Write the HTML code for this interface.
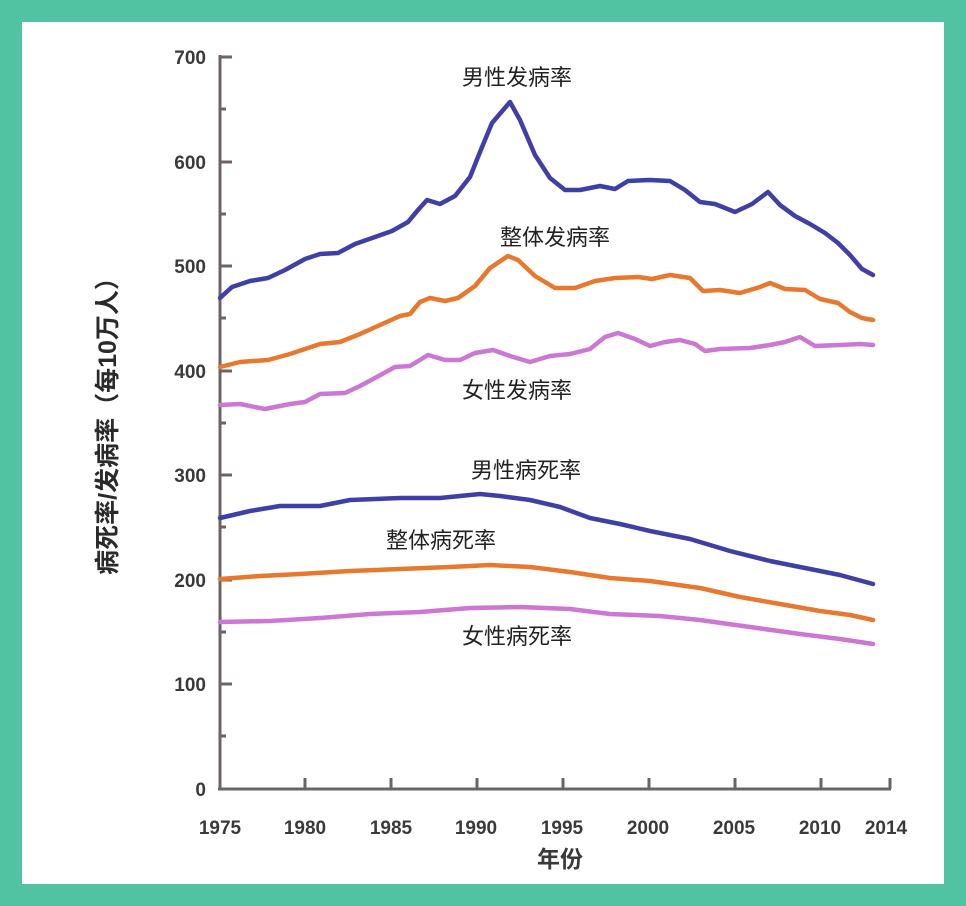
<!DOCTYPE html>
<html><head><meta charset="utf-8"><style>
html,body{margin:0;padding:0;background:#52c3a2;}
svg{display:block;}
</style></head><body>
<svg width="966" height="906" xmlns="http://www.w3.org/2000/svg" font-family="Liberation Sans, Noto Sans CJK SC, sans-serif">
<rect x="0" y="0" width="966" height="906" fill="#52c3a2"/>
<rect x="22" y="22" width="922" height="862" fill="#ffffff"/>
<g stroke="#6e6262" stroke-width="3" fill="none">
<line x1="220" y1="55" x2="220" y2="790"/>
<line x1="218" y1="789" x2="891" y2="789"/>
</g>
<g stroke="#6e6262" stroke-width="3">
<line x1="220" y1="57" x2="232" y2="57"/><line x1="220" y1="162" x2="232" y2="162"/>
<line x1="220" y1="266" x2="232" y2="266"/><line x1="220" y1="371" x2="232" y2="371"/>
<line x1="220" y1="475" x2="232" y2="475"/><line x1="220" y1="580" x2="232" y2="580"/>
<line x1="220" y1="684" x2="232" y2="684"/>
<line x1="220" y1="109" x2="226" y2="109"/><line x1="220" y1="214" x2="226" y2="214"/>
<line x1="220" y1="318" x2="226" y2="318"/><line x1="220" y1="423" x2="226" y2="423"/>
<line x1="220" y1="527" x2="226" y2="527"/><line x1="220" y1="632" x2="226" y2="632"/>
<line x1="220" y1="736" x2="226" y2="736"/>
<line x1="305" y1="789" x2="305" y2="778"/><line x1="391" y1="789" x2="391" y2="778"/>
<line x1="477" y1="789" x2="477" y2="778"/><line x1="563" y1="789" x2="563" y2="778"/>
<line x1="649" y1="789" x2="649" y2="778"/><line x1="735" y1="789" x2="735" y2="778"/>
<line x1="821" y1="789" x2="821" y2="778"/><line x1="890" y1="789" x2="890" y2="778"/>
</g>
<g font-size="19" fill="#3a3a3a" font-weight="bold" text-anchor="end">
<text x="206" y="64">700</text><text x="206" y="169">600</text><text x="206" y="273">500</text>
<text x="206" y="378">400</text><text x="206" y="482">300</text><text x="206" y="587">200</text>
<text x="206" y="691">100</text><text x="206" y="796">0</text>
</g>
<g font-size="19" fill="#3a3a3a" font-weight="bold" text-anchor="middle">
<text x="220" y="834">1975</text><text x="305" y="834">1980</text><text x="391" y="834">1985</text>
<text x="476" y="834">1990</text><text x="562" y="834">1995</text><text x="648" y="834">2000</text>
<text x="734" y="834">2005</text><text x="820" y="834">2010</text><text x="886" y="834">2014</text>
<text x="560" y="867" font-size="23">年份</text>
</g>
<text transform="translate(116,420) rotate(-90)" font-size="25" font-weight="bold" fill="#2a2a2a" text-anchor="middle">病死率/发病率（每10万人）</text>
<g fill="none" stroke-width="4.5" stroke-linejoin="round" stroke-linecap="round">
<polyline stroke="#3f3fa8" points="220,298 232,287 250,281 268,278 285,270 305,259 320,254 338,253 355,244 375,237 392,231 408,222 418,210 427,200 440,204 455,196 470,177 480,152 492,123 510,102 520,120 535,155 550,178 565,190 580,190 600,186 615,189 628,181 650,180 670,181 685,190 700,202 715,204 735,212 752,204 768,192 780,205 795,216 810,224 825,233 838,243 850,255 862,269 873,275"/>
<polyline stroke="#e8782e" points="220,367 240,362 268,360 290,354 320,344 340,342 360,334 380,325 400,316 410,314 420,302 430,298 445,301 458,298 475,286 490,268 508,256 518,260 535,276 555,288 575,288 595,281 615,278 638,277 652,279 670,275 690,278 703,291 720,290 740,293 760,287 770,283 785,289 805,290 820,299 838,303 850,312 862,318 873,320"/>
<polyline stroke="#cc77d4" points="220,405 240,404 265,409 290,404 305,402 320,394 345,393 360,386 375,378 395,367 410,366 428,355 445,360 460,360 475,353 493,350 510,356 530,362 550,356 570,354 590,349 605,337 618,333 635,339 650,346 665,342 680,340 695,344 705,351 720,349 750,348 770,345 785,342 800,337 815,346 840,345 860,344 873,345"/>
<polyline stroke="#3f3fa8" points="220,518 250,511 280,506 320,506 350,500 400,498 440,498 480,494 500,496 530,500 560,507 590,518 620,524 650,531 690,539 730,551 770,561 810,569 840,575 873,584"/>
<polyline stroke="#e8782e" points="220,579 260,576 300,574 350,571 400,569 450,567 490,565 530,567 570,572 610,578 650,581 700,588 740,597 780,604 820,611 850,615 873,620"/>
<polyline stroke="#cc77d4" points="220,622 270,621 320,618 370,614 420,612 470,608 520,607 570,609 610,614 660,616 700,620 750,627 800,634 840,639 873,644"/>
</g>
<g font-size="22" fill="#222" text-anchor="middle">
<text x="517" y="85">男性发病率</text>
<text x="555" y="245">整体发病率</text>
<text x="517" y="398">女性发病率</text>
<text x="526" y="478">男性病死率</text>
<text x="441" y="548">整体病死率</text>
<text x="517" y="644">女性病死率</text>
</g>
</svg>
</body></html>
